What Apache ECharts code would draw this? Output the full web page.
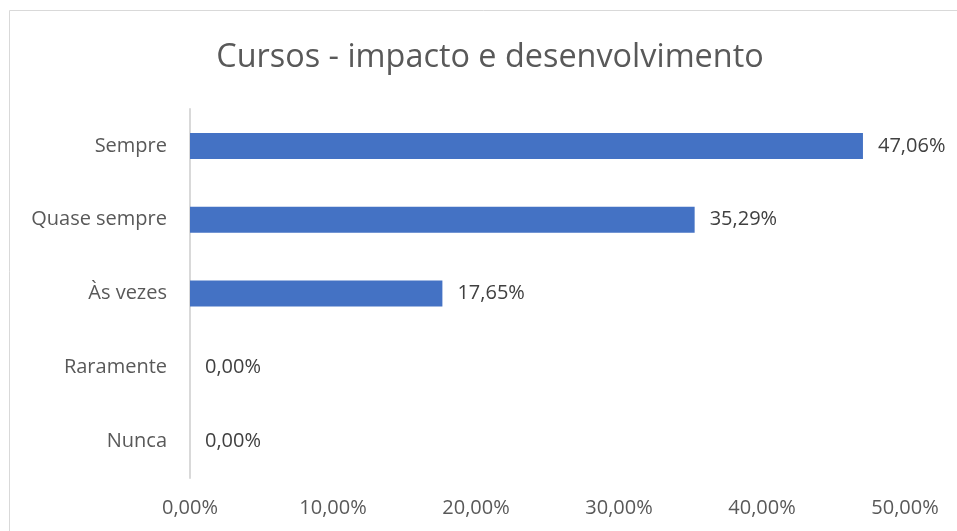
<!DOCTYPE html>
<html>
<head>
<meta charset="utf-8">
<script src="https://cdn.jsdelivr.net/npm/echarts@6/dist/echarts.min.js"></script>
<style>
  html, body { margin: 0; padding: 0; background: #fff; }
  #chart { width: 957px; height: 531px; }
</style>
</head>
<body>
<div id="chart"></div>
<script>
// dados
const categorias = ['Sempre', 'Quase sempre', 'Às vezes', 'Raramente', 'Nunca']
const valores = [47.06, 35.29, 17.65, 0, 0]
const xTicks = [0, 10, 20, 30, 40, 50]

const fmt = v => v.toFixed(2).replace('.', ',') + '%'
const fonte = '"Open Sans", "Noto Sans", sans-serif'

const chart = echarts.init(document.getElementById('chart'))
chart.setOption({
  animation: false,
  textStyle: { fontFamily: fonte },
  title: {
    text: 'Cursos - impacto e desenvolvimento',
    left: 485,
    textAlign: 'center',
    top: 37,
    textStyle: { fontSize: 32.4, fontWeight: 'normal', color: '#595959', fontFamily: fonte }
  },
  graphic: [{
    type: 'rect',
    shape: { x: 9.5, y: 10.5, width: 1000, height: 600 },
    style: { fill: 'none', stroke: '#d9d9d9', lineWidth: 1 },
    silent: true
  }],
  grid: { left: 190, right: 52, top: 109, bottom: 53 },
  xAxis: {
    type: 'value',
    min: xTicks[0],
    max: xTicks[xTicks.length - 1],
    interval: 10,
    axisLine: { show: false },
    axisTick: { show: false },
    splitLine: { show: false },
    axisLabel: {
      color: '#595959',
      fontSize: 20,
      margin: 20,
      fontFamily: fonte,
      formatter: fmt
    }
  },
  yAxis: {
    type: 'category',
    inverse: true,
    data: categorias,
    axisLine: { lineStyle: { color: '#d9d9d9', width: 2 } },
    axisTick: { show: false },
    axisLabel: { color: '#595959', fontSize: 20, margin: 23, fontFamily: fonte }
  },
  series: [{
    type: 'bar',
    data: valores,
    barWidth: 26,
    itemStyle: { color: '#4472C4' },
    label: {
      show: true,
      position: 'right',
      distance: 15,
      color: '#404040',
      fontSize: 20,
      fontFamily: fonte,
      formatter: p => fmt(p.value)
    }
  }]
})
</script>
</body>
</html>
